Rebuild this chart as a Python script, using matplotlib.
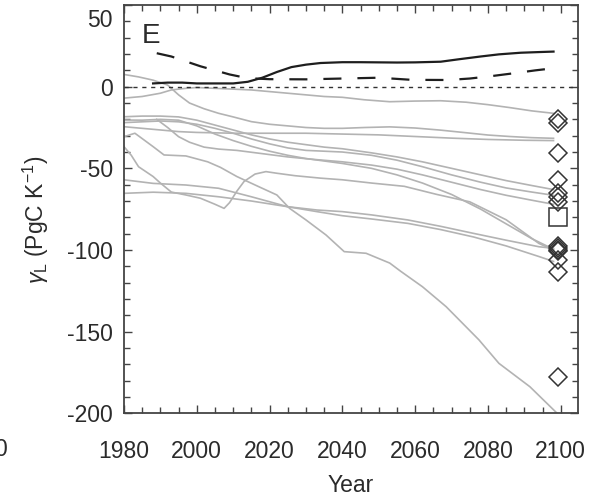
import matplotlib
matplotlib.use("Agg")
import matplotlib.pyplot as plt
import matplotlib.transforms as mtransforms
from matplotlib.ticker import MultipleLocator, FixedLocator

# ------------------------------
# Data
# ------------------------------
# black lines
solid_years = [1988, 1992, 1996, 2000, 2005, 2010, 2014, 2018, 2022, 2026, 2030, 2034,
               2040, 2045, 2050, 2055, 2060, 2067, 2072, 2078, 2083, 2089, 2094, 2098]
solid_vals = [2.0, 2.5, 2.5, 2.0, 2.0, 2.0, 3.0, 5.5, 9.0, 12.0, 13.5, 14.5,
              15.0, 15.0, 14.9, 14.8, 14.9, 15.3, 16.8, 18.5, 19.8, 20.8, 21.2, 21.5]

dash_years = [1989, 1993, 1997, 2001, 2005, 2009, 2014, 2020, 2030, 2040, 2050, 2059,
              2069, 2075, 2081, 2087, 2093, 2098]
dash_vals = [20.5, 18.5, 15.5, 12.5, 10.0, 7.5, 5.2, 4.6, 4.5, 5.0, 5.5, 4.2,
             4.1, 5.0, 6.5, 8.2, 10.0, 11.3]

# grey model lines
g1_years = [1980, 1984, 1988, 1992, 1995, 1998, 2002, 2006, 2010, 2015, 2020, 2025,
            2030, 2035, 2040, 2046, 2053, 2060, 2067, 2074, 2080, 2086, 2092, 2098]
g1_vals = [7.5, 6.0, 4.0, 1.0, -5.0, -10.0, -13.5, -16.3, -18.5, -21.4, -23.0, -24.0,
           -25.0, -25.5, -25.5, -25.0, -24.6, -25.3, -26.6, -28.2, -29.6, -30.5, -31.2, -31.6]

g2_years = [1980, 1985, 1990, 1993, 1997, 2000, 2005, 2010, 2015, 2020, 2025, 2030,
            2035, 2040, 2046, 2053, 2060, 2067, 2074, 2080, 2086, 2092, 2098]
g2_vals = [-7.0, -6.0, -4.0, -2.0, -1.0, -0.5, -1.0, -1.5, -2.0, -3.0, -4.0, -5.0,
           -6.0, -6.5, -8.0, -9.2, -8.8, -8.6, -9.5, -11.0, -12.8, -14.8, -16.3]

g3_years = [1980, 1985, 1990, 1995, 2000, 2010, 2020, 2030, 2040, 2050, 2060, 2070,
            2080, 2090, 2098]
g3_vals = [-24.5, -25.5, -26.5, -27.5, -28.0, -28.5, -28.5, -28.5, -29.0, -29.5, -30.5,
           -31.5, -32.3, -32.8, -33.0]

g4_years = [1980, 1985, 1990, 1995, 2000, 2005, 2010, 2015, 2020, 2025, 2030, 2035,
            2040, 2048, 2055, 2062, 2070, 2078, 2085, 2092, 2098]
g4_vals = [-18.4, -18.0, -18.0, -18.5, -20.5, -23.5, -26.5, -29.5, -32.0, -34.0, -35.5,
           -37.0, -38.0, -40.5, -43.0, -46.0, -50.0, -54.0, -57.5, -60.5, -63.0]

g5_years = [1980, 1985, 1990, 1995, 2000, 2005, 2010, 2015, 2020, 2025, 2030, 2035,
            2040, 2048, 2055, 2062, 2070, 2078, 2085, 2092, 2098]
g5_vals = [-22.0, -21.5, -21.0, -21.5, -23.0, -25.5, -28.5, -32.0, -35.0, -37.5, -39.0,
           -39.5, -40.0, -42.0, -45.0, -49.0, -54.0, -58.5, -62.0, -64.5, -66.5]

g6_years = [1989, 1992, 1995, 1998, 2002, 2006, 2011, 2018, 2025, 2032, 2040, 2048,
            2055, 2062, 2070, 2078, 2085, 2092, 2098]
g6_vals = [-20.0, -25.0, -30.6, -34.0, -37.0, -38.2, -39.0, -41.0, -43.0, -44.5, -46.0,
           -48.0, -50.5, -54.0, -58.5, -63.0, -66.5, -69.5, -72.0]

g7_years = [1980, 1985, 1990, 1995, 2000, 2005, 2010, 2015, 2020, 2025, 2030, 2035,
            2040, 2048, 2055, 2062, 2070, 2078, 2085, 2092, 2098]
g7_vals = [-20.4, -20.5, -20.0, -20.5, -24.0, -29.0, -33.0, -36.5, -39.5, -42.0, -44.0,
           -45.5, -47.0, -50.0, -54.0, -59.0, -66.0, -75.0, -84.0, -93.0, -99.5]

g8_years = [1980, 1982, 1984, 1986, 1988, 1990, 1993, 1997, 2001, 2005, 2007.5, 2009,
            2011, 2013, 2016, 2019, 2022, 2027, 2034, 2040, 2048, 2057, 2066, 2075,
            2085, 2094, 2098]
g8_vals = [-36.7, -42.0, -49.0, -52.0, -55.0, -59.0, -64.5, -66.3, -68.3, -72.0, -74.5,
           -71.0, -64.0, -58.0, -53.5, -52.0, -53.0, -54.5, -56.0, -57.0, -59.0, -61.0,
           -66.0, -70.5, -81.5, -96.0, -100.0]

g9_years = [1980, 1988, 1997, 2006, 2015, 2025, 2033, 2040, 2048, 2058, 2067, 2076,
            2085, 2094, 2098]
g9_vals = [-57.0, -59.2, -60.2, -62.2, -67.4, -73.5, -75.5, -76.5, -78.5, -81.6, -85.5,
           -89.8, -94.0, -98.0, -99.0]

g10_years = [1980, 1988, 1997, 2006, 2015, 2025, 2033, 2040, 2048, 2058, 2067, 2076,
             2085, 2094, 2098]
g10_vals = [-65.3, -64.6, -65.3, -67.4, -70.0, -73.5, -76.5, -79.0, -81.0, -83.7, -87.5,
            -92.0, -97.5, -104.0, -107.0]

g11_years = [1980, 1983, 1988, 1991, 1997, 2003, 2006.5, 2011, 2017, 2022, 2025.5, 2030,
             2035.5, 2040.5, 2046.5, 2053, 2056, 2062, 2068.5, 2077.5, 2083, 2091.5, 2099]
g11_vals = [-30.6, -28.5, -36.7, -41.8, -42.4, -46.0, -49.4, -55.0, -61.2, -66.3, -74.5,
            -81.6, -90.8, -101.0, -102.0, -108.0, -113.0, -122.5, -134.7, -155.0,
            -169.4, -183.7, -200.0]

grey_lines = [(g1_years, g1_vals), (g2_years, g2_vals), (g3_years, g3_vals),
              (g4_years, g4_vals), (g5_years, g5_vals), (g6_years, g6_vals),
              (g7_years, g7_vals), (g8_years, g8_vals), (g9_years, g9_vals),
              (g10_years, g10_vals), (g11_years, g11_vals)]

# end-of-century estimates
marker_year = 2099.3
diamond_vals = [-20.0, -22.4, -40.4, -57.1, -65.3, -67.7, -70.4, -97.5, -99.0,
                -100.0, -100.5, -106.0, -113.3, -177.6]
square_vals = [-79.6]

ytick_vals = [-200, -150, -100, -50, 0, 50]
ytick_labels = ["-200", "-150", "-100", "-50", "0", ""]

# ------------------------------
# Style
# ------------------------------
plt.rcParams["font.family"] = ["Liberation Sans", "DejaVu Sans"]
plt.rcParams["mathtext.fontset"] = "custom"
plt.rcParams["mathtext.rm"] = "Liberation Sans"
plt.rcParams["mathtext.it"] = "Liberation Sans:italic"
plt.rcParams["lines.scale_dashes"] = False
text_col = "#2b2b2b"
axis_col = "#444444"
fs = 16.5

# ------------------------------
# Define Figure & Axes
# ------------------------------
fig = plt.figure(figsize=(5.89, 4.99), dpi=100)
ax = fig.add_axes([0.2105, 0.1717, 0.7713, 0.8182])

# ------------------------------
# Plot Lines
# ------------------------------
for yrs, vals in grey_lines:
    ax.plot(yrs, vals, color="#b3b3b3", linewidth=1.2, zorder=2)

ax.axhline(0, color="#333333", linewidth=1.0, dashes=(3.0, 3.4), zorder=3)
ax.plot(solid_years, solid_vals, color="#1e1e1e", linewidth=1.6, zorder=4)
ax.plot(dash_years, dash_vals, color="#1e1e1e", linewidth=1.6,
        dashes=(13, 11.5), zorder=4)

ax.plot([marker_year] * len(diamond_vals), diamond_vals, linestyle="none",
        marker="D", markersize=9.6, markerfacecolor="none",
        markeredgecolor="#333333", markeredgewidth=1.1, zorder=5)
ax.plot([marker_year] * len(square_vals), square_vals, linestyle="none",
        marker="s", markersize=12.5, markerfacecolor="none",
        markeredgecolor="#333333", markeredgewidth=1.1, zorder=5)

# ------------------------------
# Axes config
# ------------------------------
ax.set_xlim(1980, 2104.8)
ax.set_ylim(-200, 50)
ax.xaxis.set_major_locator(MultipleLocator(20))
ax.xaxis.set_minor_locator(MultipleLocator(5))
ax.yaxis.set_major_locator(FixedLocator(ytick_vals))
ax.set_yticklabels(ytick_labels)
ax.yaxis.set_minor_locator(MultipleLocator(10))
ax.tick_params(which="both", direction="in", top=True, right=True,
               colors=axis_col, labelcolor=text_col, labelsize=fs, width=1.0)
ax.tick_params(which="major", length=6)
ax.tick_params(which="minor", length=4)
ax.tick_params(axis="x", pad=19)
ax.tick_params(axis="y", pad=8)
for sp in ax.spines.values():
    sp.set_color(axis_col)
    sp.set_linewidth(1.3)

# top label "50" sits a little below the top spine in the original
ytrans = mtransforms.blended_transform_factory(ax.transAxes, ax.transData)
ax.text(-0.0245, 40.8, "50", transform=ytrans, ha="right", va="center",
        fontsize=fs, color=text_col)

ax.set_xlabel("Year", fontsize=fs, color=text_col)
ax.xaxis.set_label_coords(0.5, -0.148)
ax.set_ylabel(r"$\mathit{\gamma}_{\mathrm{L}}$ (PgC K$^{\mathrm{-1}}$)", fontsize=fs,
              color=text_col)
ax.yaxis.set_label_coords(-0.16, 0.475)

ax.text(0.04, 0.907, "E", transform=ax.transAxes, fontsize=20, color=text_col,
        ha="left", va="baseline")

# fragment of the neighbouring panel's tick label (cut by the edge, as in the original)
fig.text(7 / 589, 1 - 450 / 499, "0", fontsize=fs, color=text_col,
         ha="right", va="center")

# ------------------------------
# Save figure
# ------------------------------
fig.savefig("out.png", dpi=100)
